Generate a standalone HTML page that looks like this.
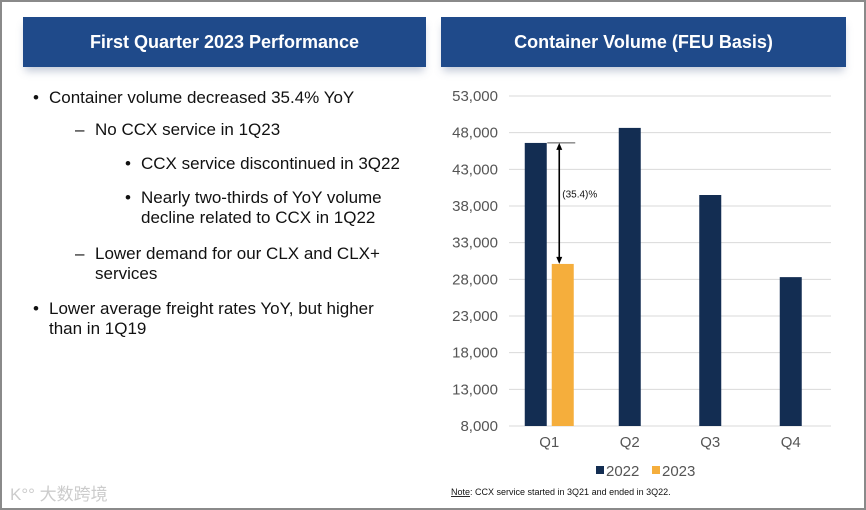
<!DOCTYPE html>
<html><head><meta charset="utf-8">
<style>
body{margin:0;width:866px;height:510px;overflow:hidden;background:#fff;font-family:"Liberation Sans",Arial,sans-serif;}
#frame{position:absolute;left:0;top:0;width:862px;height:506px;border:2px solid #8a8a8a;background:#fff;}
.hdr{position:absolute;top:15px;height:50px;background:#1f4a8a;color:#fff;font-weight:bold;font-size:18px;line-height:50px;text-align:center;box-shadow:0 6px 8px -2px rgba(80,100,140,0.35);}
.t{position:absolute;font-size:17px;color:#111;white-space:nowrap;line-height:20px;}
svg text{font-family:"Liberation Sans",Arial,sans-serif;}
</style></head><body>
<div id="frame">
<div class="hdr" style="left:21px;width:403px">First Quarter 2023 Performance</div>
<div class="hdr" style="left:439px;width:405px">Container Volume (FEU Basis)</div>
<div>
<div class="t" style="left:31px;top:86px">•</div><div class="t" style="left:47px;top:86px">Container volume decreased 35.4% YoY</div>
<div class="t" style="left:73px;top:118px">–</div><div class="t" style="left:93px;top:118px">No CCX service in 1Q23</div>
<div class="t" style="left:123px;top:152px">•</div><div class="t" style="left:139px;top:152px">CCX service discontinued in 3Q22</div>
<div class="t" style="left:123px;top:186px">•</div><div class="t" style="left:139px;top:186px">Nearly two-thirds of YoY volume<br>decline related to CCX in 1Q22</div>
<div class="t" style="left:73px;top:242px">–</div><div class="t" style="left:93px;top:242px">Lower demand for our CLX and CLX+<br>services</div>
<div class="t" style="left:31px;top:297px">•</div><div class="t" style="left:47px;top:297px">Lower average freight rates YoY, but higher<br>than in 1Q19</div>
</div>
<div style="position:absolute;left:8px;top:478px;color:#ccc;font-size:17px;font-family:'Liberation Sans','Noto Sans CJK SC',sans-serif">K°° 大数跨境</div>
</div>
<svg id="chart" width="866" height="510" style="position:absolute;left:0;top:0"></svg>
<script>
const categories=["Q1","Q2","Q3","Q4"];
const vol2022=[46600,48650,39500,28300];
const vol2023=[30100,null,null,null];
const yTicks=[8000,13000,18000,23000,28000,33000,38000,43000,48000,53000];
const ns="http://www.w3.org/2000/svg";
const svg=document.getElementById('chart');
const X0=509,X1=831,Y0=426,Y1=96,VMIN=8000,VMAX=53000;
const y=v=>Y0-(v-VMIN)/(VMAX-VMIN)*(Y0-Y1);
const band=(X1-X0)/categories.length;
const cx=i=>X0+band*(i+0.5);
function mk(tag,attrs,parent){const e=document.createElementNS(ns,tag);for(const k in attrs)e.setAttribute(k,attrs[k]);(parent||svg).appendChild(e);return e;}
yTicks.forEach(v=>{
 const g=mk('line',{x1:X0,x2:X1,y1:y(v),y2:y(v),stroke:'#d9d9d9','stroke-width':1});
 
 
 const t=mk('text',{x:498,y:y(v)+5,'text-anchor':'end','font-size':15,fill:'#555'});
 t.textContent=v.toLocaleString('en-US');
 
 
});
const bw=22;
categories.forEach((c,i)=>{
 const hasB=vol2023[i]!=null;
 const x22=hasB?cx(i)-bw-2.5:cx(i)-bw/2;
 const r=mk('rect',{x:x22,y:y(vol2022[i]),width:bw,height:Y0-y(vol2022[i]),fill:'#132d52'});
 
 
 if(hasB){
  const r2=mk('rect',{x:cx(i)+2.5,y:y(vol2023[i]),width:bw,height:Y0-y(vol2023[i]),fill:'#f5ae3c'});
  
  
 }
 const t=mk('text',{x:cx(i),y:447,'text-anchor':'middle','font-size':15,fill:'#555'});
 t.textContent=c;
 
 
});
const ya=y(vol2022[0]),yb=y(vol2023[0]),ax=cx(0)+10;
const hl=mk('line',{x1:cx(0)-2,x2:cx(0)+26,y1:ya,y2:ya,stroke:'#555','stroke-width':1});


const al=mk('line',{x1:ax,x2:ax,y1:ya+6,y2:yb-6,stroke:'#000','stroke-width':1.6});


mk('path',{d:`M${ax-3} ${ya+7}L${ax} ${ya}L${ax+3} ${ya+7}Z`,fill:'#000'});
mk('path',{d:`M${ax-3} ${yb-7}L${ax} ${yb}L${ax+3} ${yb-7}Z`,fill:'#000'});
const at=mk('text',{x:ax+3,y:(ya+yb)/2-6,'font-size':10,fill:'#111'});
at.textContent='(35.4)%';


const lg=mk('g',{});


mk('rect',{x:596,y:466,width:8,height:8,fill:'#132d52'},lg);
const l1=mk('text',{x:606,y:476,'font-size':15,fill:'#555'},lg);l1.textContent='2022';
mk('rect',{x:652,y:466,width:8,height:8,fill:'#f5ae3c'},lg);
const l2=mk('text',{x:662,y:476,'font-size':15,fill:'#555'},lg);l2.textContent='2023';
const nt=mk('text',{x:451,y:495,'font-size':9,fill:'#111'});
nt.innerHTML='<tspan text-decoration="underline">Note</tspan>: CCX service started in 3Q21 and ended in 3Q22.';


</script>
</body></html>
